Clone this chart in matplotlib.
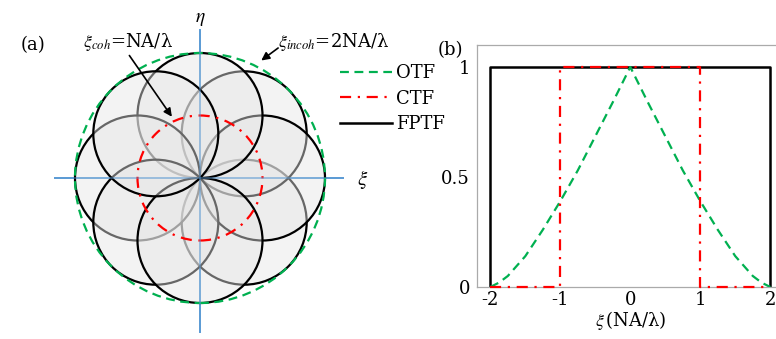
import numpy as np
import matplotlib
matplotlib.use("Agg")
import matplotlib.pyplot as plt
from matplotlib.patches import Circle

plt.rcParams['font.family'] = ['DejaVu Serif']
plt.rcParams['mathtext.fontset'] = 'stix'

# ---------------- data ----------------
# panel (a): shifted pupils (radius NA/lambda), shift NA/lambda, listed in drawing order
pupil_angles_deg = [315, 45, 0, 90, 180, 225, 270, 135]
pupil_radius = 1.0
pupil_shift = 1.0
coh_radius = 1.0      # xi_coh = NA/lambda
incoh_radius = 2.0    # xi_incoh = 2NA/lambda

# panel (b): transfer functions
otf_x = [-2.0, -1.875, -1.75, -1.5, -1.25, -1.0, -0.75, -0.5, -0.25, -0.125, 0.0,
         0.125, 0.25, 0.5, 0.75, 1.0, 1.25, 1.5, 1.75, 1.875, 2.0]
otf_y = [0.0, 0.02, 0.05, 0.14, 0.26, 0.39, 0.53, 0.685, 0.84, 0.92, 1.0,
         0.92, 0.84, 0.685, 0.53, 0.39, 0.26, 0.14, 0.05, 0.02, 0.0]
ctf_x = [-2.0, -1.0, -1.0, 1.0, 1.0, 2.0]
ctf_y = [0.0, 0.0, 1.0, 1.0, 0.0, 0.0]
fptf_x = [-2.0, -2.0, 2.0, 2.0]
fptf_y = [0.0, 1.0, 1.0, 0.0]

x_ticks = [-2, -1, 0, 1, 2]
x_ticklabels = ['-2', '-1', '0', '1', '2']
y_ticks = [0, 0.5, 1]
y_ticklabels = ['0', '0.5', '1']
legend_labels = ['OTF', 'CTF', 'FPTF']

GREEN = '#00B050'
RED = '#FF0000'
BLUE = '#5B9BD5'
FS = 13

fig = plt.figure(figsize=(7.76, 3.39), dpi=100)

# ---------------- panel (a) ----------------
S = 62.5  # px per unit
axa = fig.add_axes([0, 0, 388 / 776, 1])
axa.set_xlim(-200 / S, 188 / S)
axa.set_ylim((178 - 339) / S, 178 / S)
axa.axis('off')

for k, ang in enumerate(pupil_angles_deg):
    t = np.deg2rad(ang)
    c = Circle((pupil_shift * np.cos(t), pupil_shift * np.sin(t)), pupil_radius,
               facecolor=(0.9, 0.9, 0.9, 0.45), edgecolor='black', lw=1.6, zorder=2 + k)
    axa.add_patch(c)

axa.add_patch(Circle((0, 0), coh_radius, fill=False, edgecolor=RED, lw=1.6,
                     linestyle=(0, (5, 3, 1, 3)), zorder=20))
axa.add_patch(Circle((0, 0), incoh_radius, fill=False, edgecolor=GREEN, lw=1.6,
                     linestyle=(0, (4, 2.5)), zorder=21))

axa.plot([-2.32, 2.29], [0, 0], color=BLUE, lw=1.4, zorder=1)
axa.plot([0, 0], [-2.46, 2.37], color=BLUE, lw=1.4, zorder=1)
axa.plot([-2.32, 2.29], [0, 0], color=BLUE, lw=1.4, zorder=30, alpha=0.45)
axa.plot([0, 0], [-2.46, 2.37], color=BLUE, lw=1.4, zorder=30, alpha=0.45)

axa.text(0, 2.55, r'$\eta$', ha='center', va='center', fontsize=FS + 1)
axa.text(2.6, -0.03, r'$\xi$', ha='center', va='center', fontsize=FS + 2)
axa.text(-2.67, 2.13, '(a)', ha='center', va='center', fontsize=FS)
axa.text(-0.43, 2.17, r'$\xi_{coh}$=NA/λ', ha='right', va='center', fontsize=FS)
axa.text(1.25, 2.17, r'$\xi_{incoh}$=2NA/λ', ha='left', va='center', fontsize=FS)
axa.annotate('', xy=(-0.45, 0.98), xytext=(-1.13, 1.96),
             arrowprops=dict(arrowstyle='-|>', color='black', lw=1.2,
                             mutation_scale=12, shrinkA=0, shrinkB=0), zorder=40)
axa.annotate('', xy=(0.98, 1.88), xytext=(1.25, 2.08),
             arrowprops=dict(arrowstyle='-|>', color='black', lw=1.2,
                             mutation_scale=12, shrinkA=0, shrinkB=0), zorder=40)

# ---------------- panel (b) ----------------
axb = fig.add_axes([477 / 776, 52 / 339, 4.38 * 70 / 776, 242 / 339])
axb.set_xlim(-2.19, 2.19)
axb.set_ylim(0, 1.1)
l_otf, = axb.plot(otf_x, otf_y, color=GREEN, lw=1.6, linestyle=(0, (4, 2.5)), zorder=3)
l_ctf, = axb.plot(ctf_x, ctf_y, color=RED, lw=1.6, linestyle=(0, (5, 3, 1, 3)), zorder=4,
                  clip_on=False)
l_fptf, = axb.plot(fptf_x, fptf_y, color='black', lw=1.8, zorder=2)
axb.set_xticks(x_ticks)
axb.set_xticklabels(x_ticklabels)
axb.set_yticks(y_ticks)
axb.set_yticklabels(y_ticklabels)
axb.tick_params(axis='y', length=0, labelsize=FS, pad=5)
axb.tick_params(axis='x', length=0, labelsize=FS, pad=3)
for s in axb.spines.values():
    s.set_color('#aaaaaa')
    s.set_linewidth(0.9)
axb.set_xlabel(r'$\xi\,$(NA/λ)', fontsize=FS, labelpad=0)
fig.text(450 / 776, 1 - 50 / 339, '(b)', ha='center', va='center', fontsize=FS)

fig.legend([l_otf, l_ctf, l_fptf], legend_labels, loc='upper left',
           bbox_to_anchor=(340 / 776, 1 - 64 / 339), frameon=False, fontsize=FS,
           handlelength=2.9, handletextpad=0.2, labelspacing=0.42, borderaxespad=0,
           borderpad=0)

fig.savefig('out.png', dpi=100)
